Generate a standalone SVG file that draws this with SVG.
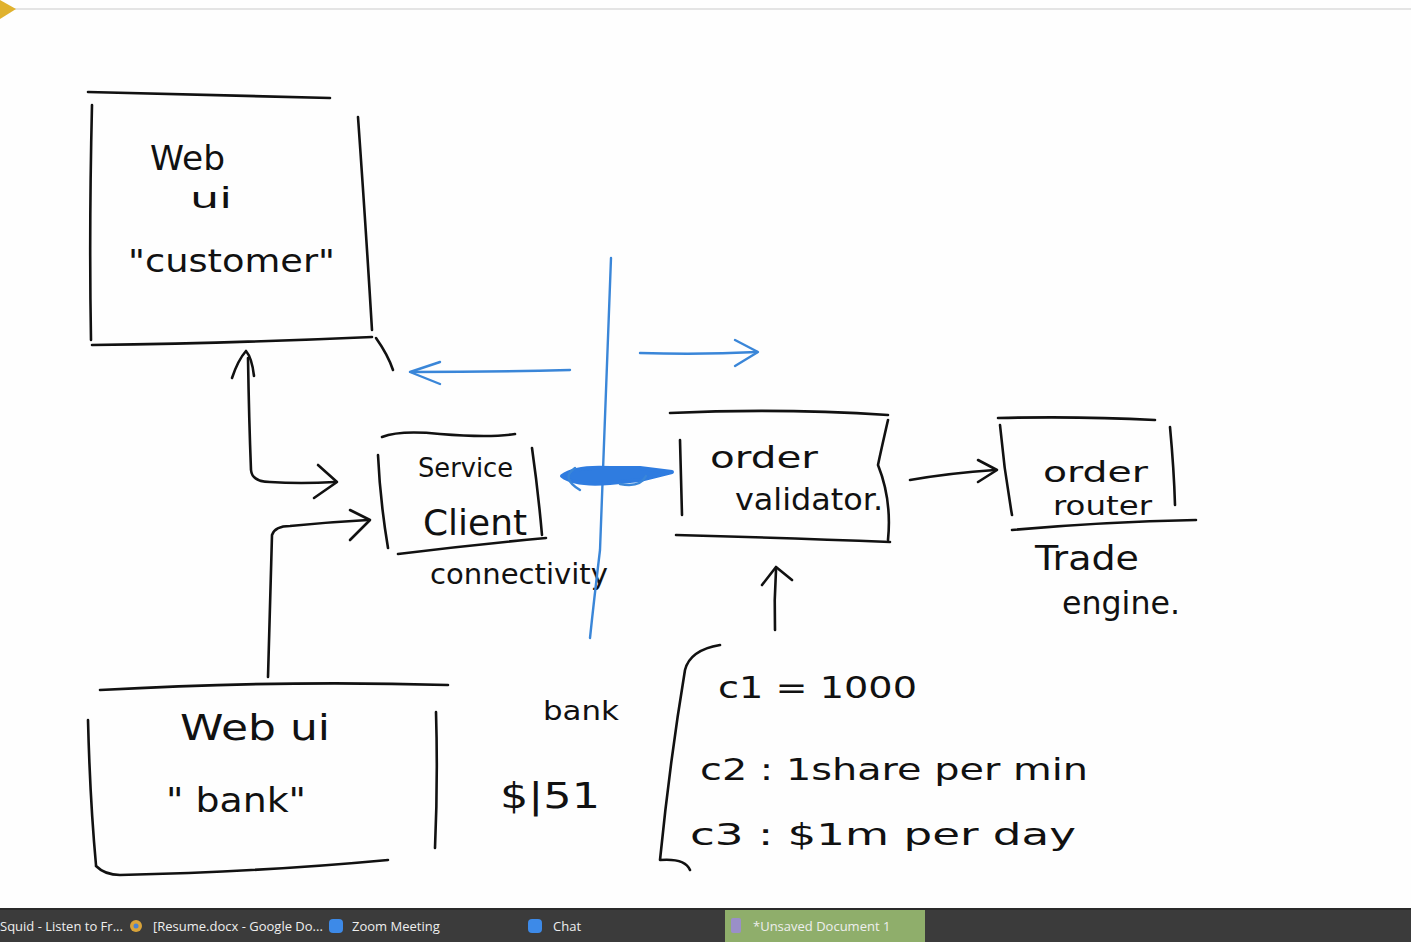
<svg xmlns="http://www.w3.org/2000/svg" width="1411" height="942" viewBox="0 0 1411 942">
<style>
.ink{fill:none;stroke:#111;stroke-width:2.6;stroke-linecap:round;stroke-linejoin:round}
.blue{fill:none;stroke:#3a86d8;stroke-width:2.4;stroke-linecap:round;stroke-linejoin:round}
.hw{font-family:"DejaVu Sans","Liberation Sans",sans-serif;fill:#111}
.tb{font-family:"Open Sans","Noto Sans",sans-serif;font-size:13px;fill:#eee}
</style>
<rect width="1411" height="942" fill="#fefefe"/>
<line x1="0" y1="9" x2="1411" y2="9" stroke="#e4e4e4" stroke-width="2"/>
<polygon points="0,0 16,9 0,19" fill="#e0b22e"/>

<g id="web-ui-customer">
<path class="ink" d="M88,92 Q210,95 330,98"/>
<path class="ink" d="M92,105 Q89,230 91,340"/>
<path class="ink" d="M92,345 Q240,343 372,337"/>
<path class="ink" d="M358,117 Q366,230 372,330"/>
<path class="ink" d="M376,338 Q388,355 393,370"/>
<text class="hw" x="150" y="170" font-size="34" textLength="75" lengthAdjust="spacingAndGlyphs">Web</text>
<text class="hw" x="190" y="208" font-size="28" textLength="42" lengthAdjust="spacingAndGlyphs">ui</text>
<text class="hw" x="128" y="272" font-size="32" textLength="207" lengthAdjust="spacingAndGlyphs">"customer"</text>
</g>

<g id="service-client">
<path class="ink" d="M382,437 Q400,430 440,434 Q490,438 515,434"/>
<path class="ink" d="M378,455 Q380,500 388,548"/>
<path class="ink" d="M398,554 Q470,545 546,538"/>
<path class="ink" d="M532,448 Q538,490 542,535"/>
<text class="hw" x="418" y="477" font-size="26" textLength="95" lengthAdjust="spacingAndGlyphs">Service</text>
<text class="hw" x="423" y="535" font-size="36" textLength="104" lengthAdjust="spacingAndGlyphs">Client</text>
<text class="hw" x="430" y="584" font-size="28" textLength="178" lengthAdjust="spacingAndGlyphs">connectivity</text>
</g>

<g id="order-validator">
<path class="ink" d="M670,413 Q780,408 888,415"/>
<path class="ink" d="M680,440 Q681,480 682,515"/>
<path class="ink" d="M676,535 Q790,538 890,542"/>
<path class="ink" d="M888,420 Q880,455 878,465 Q892,500 888,540"/>
<text class="hw" x="710" y="468" font-size="30" textLength="108" lengthAdjust="spacingAndGlyphs">order</text>
<text class="hw" x="735" y="510" font-size="30" textLength="148" lengthAdjust="spacingAndGlyphs">validator.</text>
</g>

<g id="order-router">
<path class="ink" d="M998,418 Q1080,416 1155,420"/>
<path class="ink" d="M1000,425 Q1004,470 1012,515"/>
<path class="ink" d="M1170,427 Q1174,470 1175,505"/>
<path class="ink" d="M1012,530 Q1100,522 1196,520"/>
<text class="hw" x="1043" y="482" font-size="28" textLength="105" lengthAdjust="spacingAndGlyphs">order</text>
<text class="hw" x="1053" y="515" font-size="26" textLength="99" lengthAdjust="spacingAndGlyphs">router</text>
</g>

<g id="trade-engine">
<text class="hw" x="1035" y="570" font-size="34" textLength="104" lengthAdjust="spacingAndGlyphs">Trade</text>
<text class="hw" x="1062" y="614" font-size="32" textLength="118" lengthAdjust="spacingAndGlyphs">engine.</text>
</g>

<g id="web-ui-bank">
<path class="ink" d="M100,690 Q280,680 448,685"/>
<path class="ink" d="M88,720 Q90,800 96,865"/>
<path class="ink" d="M96,866 Q105,875 120,875 Q260,872 388,860"/>
<path class="ink" d="M436,712 Q438,780 435,848"/>
<text class="hw" x="180" y="740" font-size="36" textLength="150" lengthAdjust="spacingAndGlyphs">Web  ui</text>
<text class="hw" x="166" y="812" font-size="34" textLength="140" lengthAdjust="spacingAndGlyphs">" bank"</text>
</g>

<g id="notes">
<text class="hw" x="543" y="720" font-size="26" textLength="76" lengthAdjust="spacingAndGlyphs">bank</text>
<text class="hw" x="500" y="808" font-size="36" textLength="100" lengthAdjust="spacingAndGlyphs">$|51</text>
<path class="ink" d="M720,645 Q690,650 685,670 Q670,760 660,860 Q685,858 690,870"/>
<text class="hw" x="718" y="698" font-size="30" textLength="199" lengthAdjust="spacingAndGlyphs">c1  =  1000</text>
<text class="hw" x="700" y="780" font-size="30" textLength="388" lengthAdjust="spacingAndGlyphs">c2 :  1share per min</text>
<text class="hw" x="690" y="845" font-size="30" textLength="386" lengthAdjust="spacingAndGlyphs">c3 :  $1m  per  day</text>
</g>

<g id="connectors">
<path class="ink" d="M248,358 Q249,420 251,470 Q252,482 270,482 Q300,484 335,482"/>
<path class="ink" d="M232,378 Q238,360 246,351 Q252,358 254,376"/>
<path class="ink" d="M318,465 L337,482 L314,498"/>
<path class="ink" d="M268,677 Q270,600 272,535 Q275,526 290,526 Q330,522 368,520"/>
<path class="ink" d="M350,510 L370,520 L350,540"/>
<path class="ink" d="M910,480 Q950,473 995,470"/>
<path class="ink" d="M978,460 L997,470 L978,482"/>
<path class="ink" d="M775,630 Q774,600 776,570"/>
<path class="ink" d="M762,585 L776,567 L792,580"/>
<path class="blue" d="M611,258 Q605,400 600,550 Q594,600 590,638"/>
<path class="blue" d="M570,370 Q490,372 412,372"/>
<path class="blue" d="M440,362 L410,372 L440,384"/>
<path class="blue" d="M640,353 Q700,355 757,352"/>
<path class="blue" d="M735,340 L758,352 L735,366"/>
<path d="M562,476 Q575,466 610,468 L640,468 L672,472 L640,480 L610,483 Q575,486 562,476 Z" fill="#2f7ce0" stroke="#2f7ce0" stroke-width="4" stroke-linejoin="round"/>
<path class="blue" d="M575,468 Q560,478 580,490"/>
<path class="blue" d="M620,484 Q640,488 646,476"/>
</g>

<g id="taskbar">
<rect x="0" y="908" width="1411" height="34" fill="#3b3b3b"/>
<rect x="0" y="908" width="1411" height="2" fill="#2a2a2a"/>
<rect x="725" y="910" width="200" height="32" fill="#8fae6b"/>
<text class="tb" x="0" y="931">Squid - Listen to Fr...</text>
<circle cx="136" cy="926" r="6" fill="#d8a33a"/>
<circle cx="136" cy="926" r="2.5" fill="#4a82d0"/>
<text class="tb" x="153" y="931">[Resume.docx - Google Do...</text>
<rect x="329" y="919" width="14" height="14" rx="4" fill="#3d8ae8"/>
<text class="tb" x="352" y="931">Zoom Meeting</text>
<rect x="528" y="919" width="14" height="14" rx="4" fill="#3d8ae8"/>
<text class="tb" x="553" y="931">Chat</text>
<rect x="731" y="918" width="10" height="15" rx="2" fill="#9a8fc8"/>
<text class="tb" x="753" y="931">*Unsaved Document 1</text>
</g>
</svg>
